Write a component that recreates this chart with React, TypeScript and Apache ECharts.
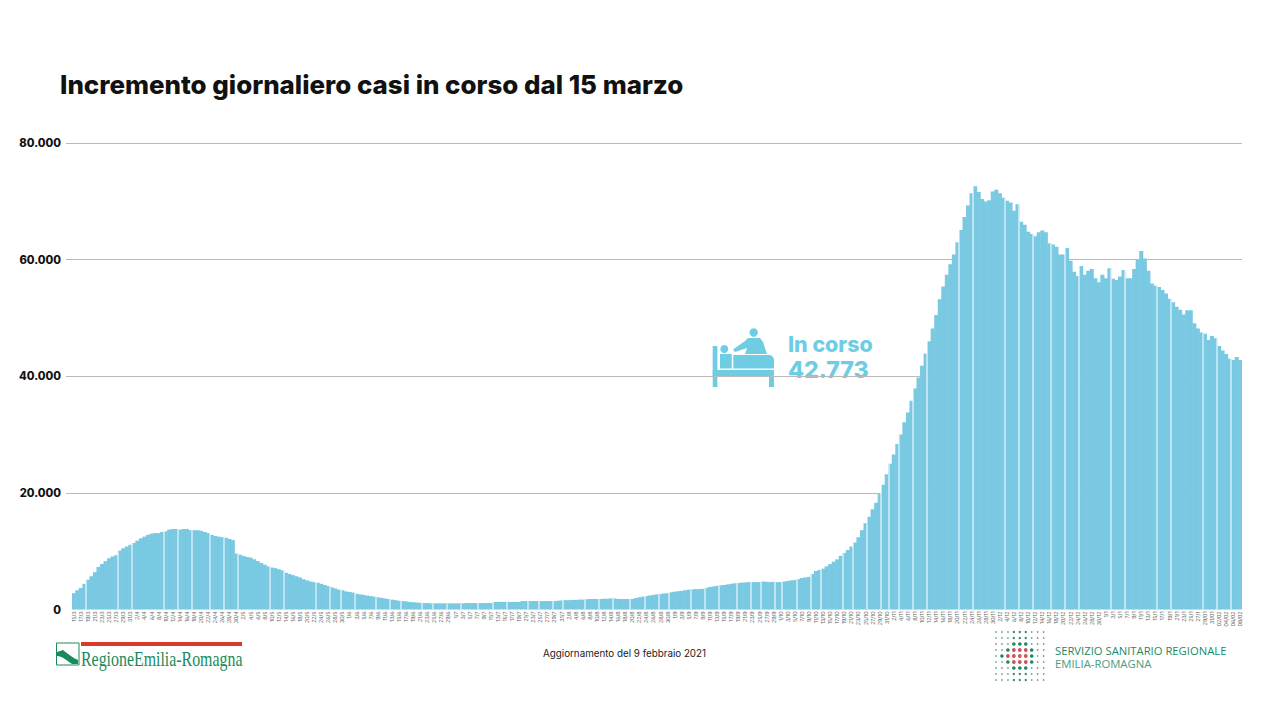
import React, { useEffect, useRef } from "react";
import * as echarts from "echarts";

const title = "Incremento giornaliero casi in corso dal 15 marzo";
const updateNote = "Aggiornamento del 9 febbraio 2021";
const yTicks = [20000, 40000, 60000, 80000];

const tickLabels = [
  "15/3","17/3","19/3","21/3","23/3","25/3","27/3","29/3","31/3",
  "2/4","4/4","6/4","8/4","10/4","12/4","14/4","16/4","18/4","20/4","22/4","24/4","26/4","28/4","30/4",
  "2/5","4/5","6/5","8/5","10/5","12/5","14/5","16/5","18/5","20/5","22/5","24/5","26/5","28/5","30/5",
  "1/6","3/6","5/6","7/6","9/6","11/6","13/6","15/6","17/6","19/6","21/6","23/6","25/6","27/6","29/6",
  "1/7","3/7","5/7","7/7","9/7","11/7","13/7","15/7","17/7","19/7","21/7","23/7","25/7","27/7","29/7","31/7",
  "2/8","4/8","6/8","8/8","10/8","12/8","14/8","16/8","18/8","20/8","22/8","24/8","26/8","28/8","30/8",
  "1/9","3/9","5/9","7/9","9/9","11/9","13/9","15/9","17/9","19/9","21/9","23/9","25/9","27/9","29/9",
  "1/10","3/10","5/10","7/10","9/10","11/10","13/10","15/10","17/10","19/10","21/10","23/10","25/10","27/10","29/10","31/10",
  "2/11","4/11","6/11","8/11","10/11","12/11","14/11","16/11","18/11","20/11","22/11","24/11","26/11","28/11","30/11",
  "2/12","4/12","6/12","8/12","10/12","12/12","14/12","16/12","18/12","20/12","22/12","24/12","26/12","28/12","30/12",
  "1/1","3/1","5/1","7/1","9/1","11/1","13/1","15/1","17/1","19/1","21/1","23/1","25/1","27/1","29/01","31/01",
  "02/02","04/02","06/02","08/02",
];

const marchApril = [
  2800,3300,3700,4400,5100,5700,6400,7300,7800,8300,8800,9100,9300,10100,10500,10800,11100,
  11400,11800,12200,12500,12800,13000,13100,13100,13300,13400,13700,13800,13800,13700,13800,13800,
  13600,13600,13600,13500,13300,13100,12800,12600,12500,12400,12300,12100,11900,9600,
];
const may = [
  9400,9200,9000,8900,8600,8300,8000,7700,7400,7200,7100,6900,6700,6300,6100,5900,5700,5500,5200,
  5000,4800,4700,4600,4400,4200,4000,3800,3600,3400,3300,3100,
];
const june = [
  3000,2900,2700,2600,2500,2400,2300,2200,2100,2000,1900,1800,1700,1600,1500,1450,1400,1300,1250,
  1200,1150,1100,1100,1050,1050,1050,1050,1050,1050,1050,
];
const july = [
  1050,1050,1050,1100,1100,1100,1100,1100,1100,1100,1100,1300,1300,1300,1300,1300,1300,1300,1300,
  1450,1450,1450,1450,1450,1450,1450,1450,1450,1450,1500,1550,
];
const august = [
  1600,1600,1650,1650,1700,1700,1750,1800,1800,1800,1800,1850,1850,1900,1900,1800,1800,1800,1800,
  1800,1950,2100,2200,2300,2400,2500,2600,2650,2750,2800,2950,
];
const september = [
  3050,3150,3200,3300,3400,3450,3500,3500,3550,3700,3850,3950,4050,4150,4200,4300,4400,4500,4550,
  4600,4650,4700,4700,4700,4700,4800,4750,4700,4750,4700,
];
const october = [
  4700,4800,4900,5000,5050,5200,5400,5500,5600,6100,6600,6800,7000,7400,7800,8200,8600,9200,9700,
  10200,10800,11500,12400,13600,14800,15900,17200,18300,19800,21400,23200,
];
const november = [
  25000,26600,28400,30000,32100,33800,35800,37900,39800,41800,43900,46000,48200,50500,53200,55400,
  57400,59200,60900,63000,65100,67300,69300,71400,72600,71600,70400,69950,70200,71700,
];
const december = [
  72000,71400,70600,70100,69800,68400,69500,66500,66000,64800,64400,64000,64700,65000,64700,62800,
  62600,62200,60900,60900,62000,59800,57900,57200,58900,57400,58100,58400,56800,56100,57400,
];
const january = [
  56800,58500,56700,56500,57100,58200,56800,56800,58400,60000,61500,60200,58100,55900,55500,55300,
  54800,54200,53300,52700,51900,51400,50600,51300,51300,49100,48200,47500,47300,46200,46900,
];
const february = [46500,45200,44400,43800,43000,42800,43300,42773];

const values = [
  ...marchApril, ...may, ...june, ...july, ...august, ...september,
  ...october, ...november, ...december, ...january, ...february,
];

// Bars after which the reference shows a thin white seam.
const seams = [
  4,13,17,26,30,34,39,43,47,56,60,69,73,76,80,86,90,93,99,102,106,110,115,119,123,129,132,136,139,
  145,149,153,158,162,166,169,175,179,183,188,192,195,199,201,205,209,212,218,221,225,229,231,234,
  238,242,251,255,264,268,272,277,281,285,294,298,307,311,320,324,328,
];

const categories = values.map((_, i) => (i % 2 === 0 ? tickLabels[i / 2] : "") ?? "");

const BAR = "#7ac9e2";
const ICON = "#6fcde3";
const GREEN = "#1a8a5a";

const dotRows = [
  "sssmmmsss",
  "sssmmmsss",
  "sssbbbsss",
  "ssgrrrgss",
  "sgrrrrgss",
  "ssgrrrgss",
  "sssbbbsss",
  "sssmmmsss",
  "sssmmmsss",
];
const dotStyle: Record<string, [number, string]> = {
  s: [0.8, "#6a9c8c"],
  m: [1.2, "#2f8f6b"],
  b: [1.8, "#1d8a60"],
  g: [1.8, "#1d8a60"],
  r: [1.9, "#d2555a"],
};

echarts.graphic.registerShape(
  "rlogoFill",
  echarts.graphic.extendPath("M57 652 L63 650 C68 654 73 658 78 660 L78 664 L72 664 C66 660 62 656 57 656 Z", {})
);

function buildGraphic() {
  const g: any[] = [
    { type: "text", x: 60, y: 71, style: { text: title, font: "800 25.9px Inter", fill: "#111" } },
    { type: "text", x: 543, y: 648.5, style: { text: updateNote, font: "400 9.8px Inter", fill: "#222" } },

    // Bed icon
    { type: "rect", shape: { x: 712.7, y: 346, width: 4.7, height: 41 }, style: { fill: ICON } },
    { type: "circle", shape: { cx: 724.3, cy: 349, r: 4 }, style: { fill: ICON } },
    { type: "rect", shape: { x: 720, y: 354, width: 11.8, height: 14.5 }, style: { fill: ICON } },
    { type: "rect", shape: { x: 733.3, y: 355, width: 40.7, height: 13.5, r: [0, 5, 0, 0] }, style: { fill: ICON } },
    { type: "rect", shape: { x: 712.7, y: 370, width: 61.3, height: 6 }, style: { fill: ICON } },
    { type: "rect", shape: { x: 769, y: 370, width: 5, height: 17 }, style: { fill: ICON } },
    { type: "circle", shape: { cx: 753.7, cy: 332.5, r: 4.2 }, style: { fill: ICON } },
    {
      type: "polygon",
      shape: {
        points: [
          [748, 338], [760, 338], [763, 342], [767, 354], [745, 354], [747, 348],
          [735, 352], [733, 349.5], [745, 341],
        ],
      },
      style: { fill: ICON },
    },
    { type: "text", x: 788, y: 333.5, style: { text: "In corso", font: "800 21.4px Inter", fill: ICON } },
    { type: "text", x: 788, y: 358.5, style: { text: "42.773", font: "800 23.2px Inter", fill: ICON } },

    // Regione Emilia-Romagna logo
    { type: "rect", shape: { x: 56.5, y: 643, width: 22.5, height: 22 }, style: { fill: "#fff", stroke: GREEN, lineWidth: 1 } },
    { type: "rlogoFill", style: { fill: GREEN } },
    { type: "rect", shape: { x: 81, y: 642, width: 161, height: 4 }, style: { fill: "#d93a2b" } },
    {
      type: "text", x: 81, y: 648, scaleX: 0.757,
      style: { text: "RegioneEmilia-Romagna", font: "400 21px 'Liberation Serif'", fill: GREEN },
    },

    // Servizio sanitario logo
    { type: "text", x: 1055, y: 645, style: { text: "SERVIZIO SANITARIO REGIONALE", font: "500 11.25px 'Open Sans'", fill: "#1e8a66" } },
    { type: "text", x: 1055, y: 658, style: { text: "EMILIA-ROMAGNA", font: "400 11.3px 'Open Sans'", fill: "#4a9c82" } },
  ];
  dotRows.forEach((row, r) => {
    row.split("").forEach((c, k) => {
      const [rad, fill] = dotStyle[c];
      g.push({ type: "circle", shape: { cx: 996 + k * 5.95, cy: 632 + r * 6, r: rad }, style: { fill } });
    });
  });
  return g;
}

export default function App() {
  const ref = useRef<HTMLDivElement>(null);
  useEffect(() => {
    const chart = echarts.init(ref.current!, null, { renderer: "svg" });
    chart.setOption({
      animation: false,
      backgroundColor: "#fff",
      grid: { left: 72, right: 22, top: 143, bottom: 96.5, containLabel: false },
      xAxis: {
        type: "category",
        data: categories,
        axisLine: { show: false },
        axisTick: { show: false },
        axisLabel: { interval: 0, rotate: 90, fontSize: 5.2, color: "#666", margin: 2, fontFamily: "Inter" },
      },
      yAxis: {
        type: "value",
        min: 0,
        max: 80000,
        interval: 20000,
        axisLine: { show: false },
        axisTick: { show: true, length: 6, customValues: yTicks, lineStyle: { color: "#b9b9b9", width: 1 } },
        axisLabel: {
          margin: 11,
          fontSize: 11.2,
          fontWeight: 800,
          color: "#111",
          fontFamily: "Inter",
          formatter: (v: number) => (v === 0 ? "0" : `${v / 1000}.000`),
        },
        splitLine: { lineStyle: { color: "#b9b9b9", width: 1 } },
      },
      series: [
        {
          type: "bar",
          data: values,
          barWidth: 4.1,
          itemStyle: { color: BAR },
          silent: true,
        },
        {
          type: "custom",
          silent: true,
          z: 5,
          data: seams.map((s) => [s, Math.max(values[s - 1], values[s])]),
          renderItem: (_: any, api: any) => {
            const band = api.size([1, 0])[0];
            const top = api.coord([api.value(0), api.value(1)]);
            const base = api.coord([api.value(0), 0]);
            return {
              type: "rect",
              shape: { x: Math.round(top[0] - band / 2) - 0.5, y: top[1], width: 1, height: base[1] - top[1] },
              style: { fill: "#fff" },
            };
          },
        },
      ],
      graphic: { elements: buildGraphic() },
    });
    return () => chart.dispose();
  }, []);
  return <div ref={ref} style={{ position: "absolute", left: 0, top: 0, width: 1264, height: 706 }} />;
}
